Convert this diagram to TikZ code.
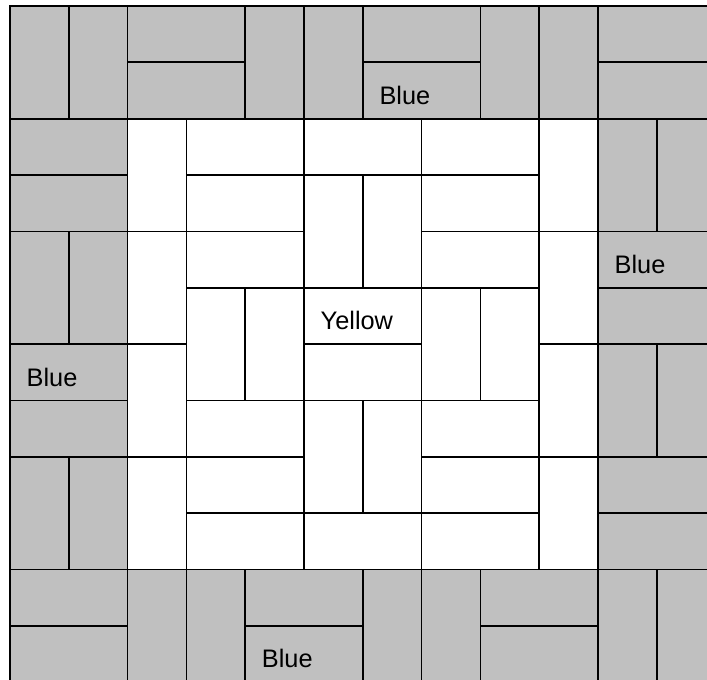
\documentclass[tikz,border=0pt]{standalone}
\usepackage{fontspec}
\setmainfont{Liberation Sans}
\definecolor{bluegray}{RGB}{192,192,192}

\begin{document}
\begin{tikzpicture}[x=44.1pt,y=-42.26pt,
    tile/.style={draw=black,line width=1.3pt},
    bluetile/.style={tile,fill=bluegray},
    colourlabel/.style={anchor=base west,inner sep=0pt,font=\fontsize{19}{23}\selectfont}]
  \useasboundingbox (-0.17,-0.1065) rectangle (11.854,11.961);
  % blue ring
  \foreach \c/\r in {2/0,2/1,6/0,6/1,10/0,10/1,0/2,0/3,0/6,0/7,0/10,0/11,
                     4/10,4/11,8/10,8/11,10/4,10/5,10/8,10/9}
    \draw[bluetile] (\c,\r) rectangle ++(2,1);
  \foreach \c/\r in {0/0,1/0,4/0,5/0,8/0,9/0,0/4,1/4,0/8,1/8,
                     2/10,3/10,6/10,7/10,10/10,11/10,10/2,11/2,10/6,11/6}
    \draw[bluetile] (\c,\r) rectangle ++(1,2);
  % yellow middle
  \foreach \c/\r in {3/2,5/2,7/2,3/3,7/3,3/4,7/4,5/5,5/6,3/7,7/7,3/8,7/8,3/9,5/9,7/9}
    \draw[tile] (\c,\r) rectangle ++(2,1);
  \foreach \c/\r in {2/2,2/4,2/6,2/8,9/2,9/4,9/6,9/8,5/3,6/3,3/5,4/5,7/5,8/5,5/7,6/7}
    \draw[tile] (\c,\r) rectangle ++(1,2);
  % labels
  \node[colourlabel] (blue top) at (6.28,1.745) {Blue};
  \node[colourlabel] (blue left) at (0.28,6.745) {Blue};
  \node[colourlabel] (blue right) at (10.28,4.745) {Blue};
  \node[colourlabel] (blue bottom) at (4.28,11.745) {Blue};
  \node[colourlabel] (yellow) at (5.28,5.745) {Yellow};
\end{tikzpicture}
\end{document}
